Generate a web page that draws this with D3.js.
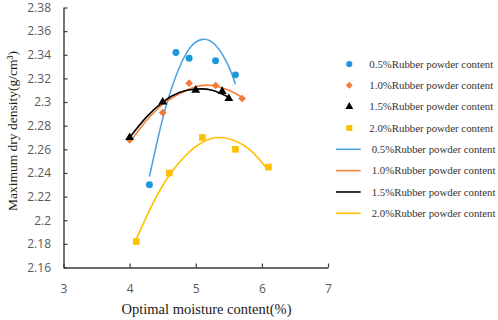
<!DOCTYPE html>
<html>
<head>
<meta charset="utf-8">
<script src="https://cdn.jsdelivr.net/npm/d3@7"></script>
<style>
  body { margin: 0; background: #fff; }
</style>
</head>
<body>
<div id="chart"></div>
<script>
// series names (same for markers and trend lines)
const seriesNames = ["0.5%Rubber powder content", "1.0%Rubber powder content",
  "1.5%Rubber powder content", "2.0%Rubber powder content"];

// measured points: moisture (%) and dry density (g/cm3)
const moist05 = [4.3, 4.7, 4.9, 5.3, 5.6];
const dens05 = [2.230, 2.342, 2.337, 2.335, 2.323];
const moist10 = [4.0, 4.5, 4.9, 5.3, 5.7];
const dens10 = [2.268, 2.291, 2.316, 2.314, 2.303];
const moist15 = [4.0, 4.5, 5.0, 5.4, 5.5];
const dens15 = [2.270, 2.300, 2.310, 2.309, 2.303];
const moist20 = [4.1, 4.6, 5.1, 5.6, 6.1];
const dens20 = [2.182, 2.240, 2.270, 2.260, 2.245];

// trend curves
const trendX05 = [4.3, 4.5, 4.7, 4.9, 5.1, 5.3, 5.5, 5.6];
const trendY05 = [2.237, 2.286, 2.322, 2.345, 2.353, 2.348, 2.330, 2.315];
const trendX10 = [4.0, 4.25, 4.5, 4.75, 5.0, 5.25, 5.5, 5.7];
const trendY10 = [2.266, 2.284, 2.298, 2.307, 2.313, 2.314, 2.310, 2.304];
const trendX15 = [4.0, 4.25, 4.5, 4.75, 5.0, 5.25, 5.5];
const trendY15 = [2.270, 2.287, 2.300, 2.308, 2.311, 2.310, 2.304];
const trendX20 = [4.1, 4.35, 4.6, 4.85, 5.1, 5.35, 5.6, 5.85, 6.1];
const trendY20 = [2.184, 2.214, 2.238, 2.255, 2.266, 2.270, 2.267, 2.258, 2.242];

// axis ticks
const xTicks = [3, 4, 5, 6, 7];
const yTicks = [2.16, 2.18, 2.2, 2.22, 2.24, 2.26, 2.28, 2.3, 2.32, 2.34, 2.36, 2.38];
const yTickLabels = ["2.16", "2.18", "2.2", "2.22", "2.24", "2.26", "2.28", "2.3", "2.32", "2.34", "2.36", "2.38"];

function draw() {
  const margin = {top: 7.5, right: 170, bottom: 52.5, left: 63.5};
  const width = 498 - margin.left - margin.right;
  const height = 320 - margin.top - margin.bottom;

  const svg = d3.select("#chart")
    .append("svg")
    .attr("width", 498)
    .attr("height", 320);

  const chart = svg.append("g")
    .attr("transform", `translate(${margin.left}, ${margin.top})`);

  const xScale = d3.scaleLinear().domain([3, 7]).range([0, width]);
  const yScale = d3.scaleLinear().domain([2.16, 2.38]).range([height, 0]);

  const markerColors = ["#1E97DB", "#F5793A", "#000000", "#FFC000"];
  const lineColors = ["#4FA5E1", "#F5813F", "#000000", "#FFC000"];
  const symbols = [d3.symbolCircle, d3.symbolSquare, d3.symbolTriangle, d3.symbolSquare];
  const symbolSizes = [38, 30, 34, 44];
  const symbolRotate = [0, 45, 0, 0];

  const points = [[moist05, dens05], [moist10, dens10], [moist15, dens15], [moist20, dens20]]
    .map(([xs, ys]) => xs.map((x, i) => ({x: x, y: ys[i]})));
  const trends = [[trendX05, trendY05], [trendX10, trendY10], [trendX15, trendY15], [trendX20, trendY20]]
    .map(([xs, ys]) => xs.map((x, i) => ({x: x, y: ys[i]})));

  // axes
  const xAxis = d3.axisBottom(xScale)
    .tickValues(xTicks)
    .tickFormat(d3.format("d"))
    .tickSizeInner(-4)
    .tickSizeOuter(0)
    .tickPadding(16.5);

  const xAxisGroup = chart.append("g")
    .attr("transform", `translate(0, ${height})`)
    .call(xAxis);

  const yAxis = d3.axisLeft(yScale)
    .tickValues(yTicks)
    .tickFormat((d, i) => yTickLabels[i])
    .tickSizeInner(-4)
    .tickSizeOuter(0)
    .tickPadding(12.5);

  const yAxisGroup = chart.append("g")
    .call(yAxis);

  [xAxisGroup, yAxisGroup].forEach(g => {
    g.select(".domain").attr("stroke", "#3a3a3a").attr("stroke-width", 1.4);
    g.selectAll(".tick line").attr("stroke", "#3a3a3a").attr("stroke-width", 1.2);
    g.selectAll(".tick text")
      .attr("fill", "#595959")
      .style("font-family", "'Open Sans', sans-serif")
      .style("font-size", "12px");
  });

  // trend lines
  const line = d3.line()
    .x(d => xScale(d.x))
    .y(d => yScale(d.y))
    .curve(d3.curveNatural);

  chart.append("g")
    .selectAll("path")
    .data(trends)
    .join("path")
    .attr("d", line)
    .attr("fill", "none")
    .attr("stroke", (d, i) => lineColors[i])
    .attr("stroke-width", 1.6);

  // markers
  chart.append("g")
    .selectAll("g")
    .data(points)
    .join("g")
    .attr("fill", (d, i) => markerColors[i])
    .each(function(d, i) {
      d3.select(this).selectAll("path")
        .data(d)
        .join("path")
        .attr("d", d3.symbol(symbols[i], symbolSizes[i]))
        .attr("transform", p => `translate(${xScale(p.x)}, ${yScale(p.y)}) rotate(${symbolRotate[i]})`);
    });

  // axis titles
  svg.append("text")
    .attr("x", 206.5)
    .attr("y", 314)
    .attr("text-anchor", "middle")
    .attr("fill", "#1a1a1a")
    .style("font-family", "'Liberation Serif', 'Times New Roman', serif")
    .style("font-size", "14.5px")
    .text("Optimal moisture content(%)");

  svg.append("text")
    .attr("transform", "translate(16.5, 131) rotate(-90)")
    .attr("text-anchor", "middle")
    .attr("fill", "#1a1a1a")
    .style("font-family", "'Liberation Serif', 'Times New Roman', serif")
    .style("font-size", "13.5px")
    .text("Maximum dry density(g/cm³)");

  // legend: marker rows, then line rows
  const legendRow = i => 64 + i * 21.33;
  const legend = svg.append("g");

  seriesNames.forEach((name, i) => {
    legend.append("path")
      .attr("d", d3.symbol(symbols[i], symbolSizes[i] * 0.8)())
      .attr("transform", `translate(349.3, ${legendRow(i)}) rotate(${symbolRotate[i]})`)
      .attr("fill", markerColors[i]);
    legend.append("text")
      .attr("x", 369.3)
      .attr("y", legendRow(i) + 3.8)
      .attr("fill", "#333")
      .style("font-family", "'Liberation Serif', 'Times New Roman', serif")
      .style("font-size", "10.8px")
      .text(name);
  });

  seriesNames.forEach((name, i) => {
    const ly = legendRow(i + 4);
    legend.append("line")
      .attr("x1", 336).attr("x2", 360.7)
      .attr("y1", ly).attr("y2", ly)
      .attr("stroke", lineColors[i])
      .attr("stroke-width", 1.6);
    legend.append("text")
      .attr("x", 371.7)
      .attr("y", ly + 3.8)
      .attr("fill", "#333")
      .style("font-family", "'Liberation Serif', 'Times New Roman', serif")
      .style("font-size", "10.8px")
      .text(name);
  });
}

draw();
</script>
</body>
</html>
